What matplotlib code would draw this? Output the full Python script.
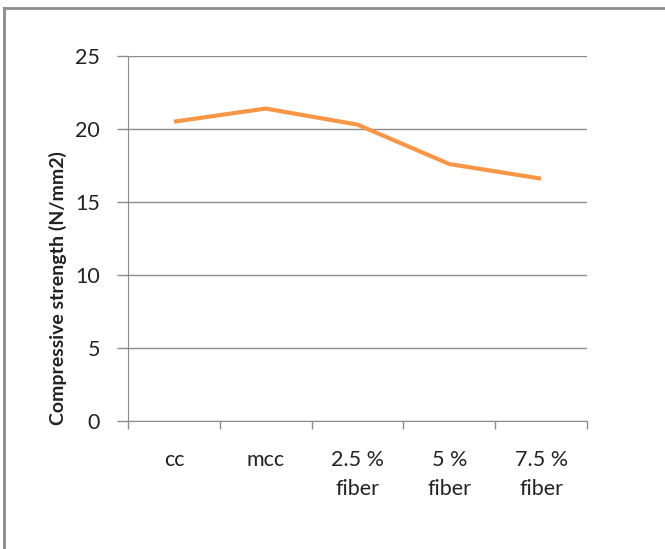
import matplotlib.pyplot as plt
import numpy as np
from matplotlib.lines import Line2D

categories = ['cc', 'mcc', '2.5 %\nfiber', '5 %\nfiber', '7.5 %\nfiber']
strength = [20.5, 21.4, 20.3, 17.6, 16.6]

plt.rcParams['font.family'] = ['Lato', 'DejaVu Sans']

fig = plt.figure(figsize=(6.65, 5.49), dpi=100)
ax = fig.add_axes([128 / 665, 1 - 421 / 549, 459 / 665, 365 / 549])

x = np.arange(len(categories)) + 0.5
ax.plot(x, strength, color='#F79646', lw=3, solid_capstyle='butt')

ax.set_xlim(0, len(categories))
ax.set_ylim(0, 25)
ax.set_yticks(range(0, 26, 5))
ax.yaxis.grid(True, color='#8c8c8c', lw=1)
ax.set_axisbelow(True)

# boundary ticks between categories, labels sit on the minor ticks
ax.set_xticks(range(len(categories) + 1))
ax.set_xticklabels([])
ax.set_xticks(x, minor=True)
ax.set_xticklabels(categories, minor=True, fontsize=15.5, linespacing=1.55,
                   color='#222222')
ax.tick_params(axis='x', which='major', length=6, color='#8c8c8c', width=1)
ax.tick_params(axis='x', which='minor', length=0, pad=21)
ax.tick_params(axis='y', length=8, color='#8c8c8c', width=1, labelsize=15.5, pad=12,
               labelcolor='#222222')

for s in ['top', 'right']:
    ax.spines[s].set_visible(False)
for s in ['left', 'bottom']:
    ax.spines[s].set_color('#8c8c8c')

fig.text(58 / 665, 1 - 288 / 549, 'Compressive strength (N/mm2)', rotation=90,
         ha='center', va='center', fontsize=14, fontweight='bold', color='#222222')

# outer frame
fig.add_artist(Line2D([4 / 665, 4 / 665], [0, 1 - 8 / 549], color='#8c8c8c', lw=2,
                      transform=fig.transFigure))
fig.add_artist(Line2D([4 / 665, 1], [1 - 8 / 549, 1 - 8 / 549], color='#8c8c8c', lw=2,
                      transform=fig.transFigure))

fig.savefig('out.png', dpi=100)
